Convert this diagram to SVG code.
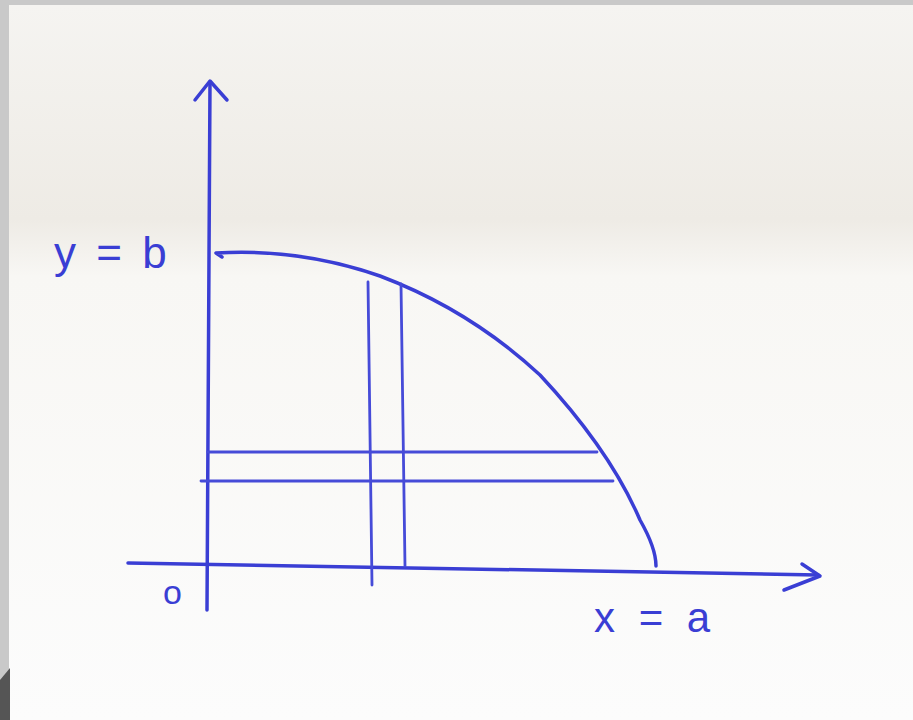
<svg xmlns="http://www.w3.org/2000/svg" width="913" height="720" viewBox="0 0 913 720">
  <defs>
    <linearGradient id="paper" x1="0" y1="0" x2="0" y2="1">
      <stop offset="0" stop-color="#f5f4f1"/>
      <stop offset="0.3" stop-color="#eeebe5"/>
      <stop offset="0.38" stop-color="#f8f7f4"/>
      <stop offset="1" stop-color="#fcfcfc"/>
    </linearGradient>
  </defs>
  <style>
    .ink { stroke: #3a3ed4; stroke-width: 3.5; fill: none; stroke-linecap: round; stroke-linejoin: round; }
    .thin { stroke: #464bd8; stroke-width: 2.8; fill: none; stroke-linecap: round; }
    .lbl { fill: #3a3ed4; font-family: "Liberation Sans", "DejaVu Sans", sans-serif; }
  </style>
  <rect x="0" y="0" width="913" height="720" fill="#c9c9c9"/>
  <rect x="9" y="5" width="904" height="715" fill="url(#paper)"/>
  <path d="M0 680 L10 668 L10 720 L0 720 Z" fill="#555"/>

  <g id="y-axis">
    <path class="ink" d="M210 82 L207 610"/>
    <path class="ink" d="M195 100 L210 81 L227 100"/>
  </g>
  <g id="x-axis">
    <path class="ink" d="M128 563 L818 575"/>
    <path class="ink" d="M802 564 L820 576 L784 590"/>
  </g>
  <g id="curve">
    <path class="ink" d="M222 257 L216 253 Q300 248 380 276 Q470 310 540 375 Q610 450 640 520 Q656 548 656 566"/>
  </g>
  <g id="strips">
    <path class="thin" d="M368 282 L372 585"/>
    <path class="thin" d="M401 284 L405 566"/>
    <path class="thin" d="M208 452 L597 452"/>
    <path class="thin" d="M201 481 L613 481"/>
  </g>
  <g id="labels">
    <text class="lbl" x="54" y="268" font-size="44" letter-spacing="4">y = b</text>
    <text class="lbl" x="163" y="604" font-size="34">o</text>
    <text class="lbl" x="594" y="632" font-size="42" letter-spacing="6">x = a</text>
  </g>
</svg>
